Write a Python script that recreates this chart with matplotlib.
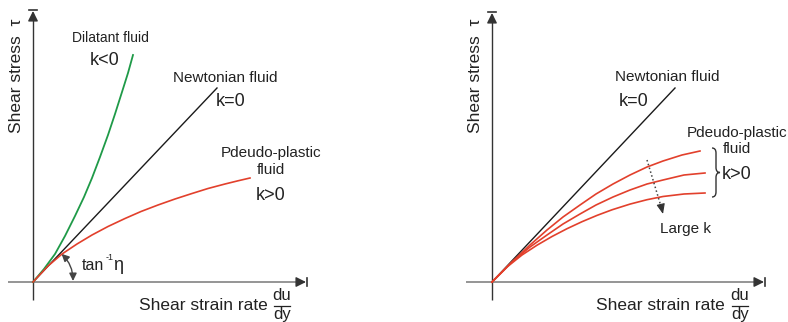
import matplotlib
matplotlib.use("Agg")
import matplotlib.pyplot as plt
from matplotlib.patches import FancyArrowPatch, ArrowStyle, PathPatch
from matplotlib.path import Path

plt.rcParams['font.family'] = ['Liberation Sans', 'DejaVu Sans']

# ---------------- data (arbitrary units: shear strain rate vs shear stress) ----------------
# Left panel
newton_left_x = [0, 184]
newton_left_y = [0, 194]
dilatant_x = [0, 11, 22, 32, 42, 51, 59, 67, 75, 82, 89, 95, 100]
dilatant_y = [0, 13, 28, 46, 66, 85, 104, 125, 147, 168, 190, 209, 227]
pseudo_left_x = [0, 15, 29, 44, 59, 75, 92, 108, 125, 142, 159, 175, 192, 205, 217]
pseudo_left_y = [0, 16, 28, 38, 47, 55.5, 63.5, 70.5, 77, 83, 88.5, 93.5, 98, 101.2, 104]

# Right panel
newton_right_x = [0, 183]
newton_right_y = [0, 194]
pseudo_top_x = [0, 20, 38, 55, 71, 88, 104, 121, 138, 155, 171, 190, 208]
pseudo_top_y = [0, 20, 37, 52, 65, 77, 88, 98, 107, 115, 121, 127, 131]
pseudo_mid_x = [0, 20, 38, 55, 71, 88, 104, 121, 138, 155, 171, 192, 213]
pseudo_mid_y = [0, 20, 35, 47, 58, 68, 77, 85, 92, 98, 102, 107, 109]
pseudo_bot_x = [0, 15, 30, 45, 60, 75, 90, 105, 120, 138, 155, 171, 192, 213]
pseudo_bot_y = [0, 15, 27, 36.8, 45.5, 53.3, 60.3, 66.6, 72.2, 77.9, 82.3, 85.5, 88, 89]

GREEN = '#1f9a48'
RED = '#e2402c'
BLACK = '#1a1a1a'
AXGRAY = '#8c8c8c'
AXDARK = '#333333'
TXT = '#222222'

fig = plt.figure(figsize=(7.88, 3.22), dpi=100)
axL = fig.add_axes([0, 0, 0.5, 1])
axR = fig.add_axes([0.5, 0, 0.5, 1])
axL.set_xlim(-33, 361)
axR.set_xlim(-98, 296)
for ax in (axL, axR):
    ax.set_ylim(-40, 282)
    ax.axis('off')


def draw_axes(ax, x0, x1, y0, y1):
    ax.plot([x0, x1 - 3], [0, 0], color=AXGRAY, lw=1.3, solid_capstyle='butt')
    ax.annotate('', xy=(x1 - 1, 0), xytext=(x1 - 9, 0),
                arrowprops=dict(arrowstyle=ArrowStyle('-|>', head_length=0.6, head_width=0.3),
                                color=AXDARK, lw=1, shrinkA=0, shrinkB=0, mutation_scale=10))
    ax.plot([x1, x1], [-4, 4], color=AXDARK, lw=1.2)
    ax.plot([0, 0], [y0, y1 - 3], color=AXDARK, lw=1.0, solid_capstyle='butt')
    ax.annotate('', xy=(0, y1 - 1), xytext=(0, y1 - 9),
                arrowprops=dict(arrowstyle=ArrowStyle('-|>', head_length=0.6, head_width=0.3),
                                color=AXDARK, lw=1, shrinkA=0, shrinkB=0, mutation_scale=10))
    ax.plot([-4, 4], [y1, y1], color=AXDARK, lw=1.2)


def draw_labels(ax, ylab_x, xlab_right, frac_x):
    ax.text(ylab_x, 206, 'Shear stress  τ', rotation=90, fontsize=12.5,
            ha='center', va='center', color=TXT)
    ax.text(xlab_right, -23, 'Shear strain rate', fontsize=12.5, ha='right',
            va='center', color=TXT)
    ax.text(frac_x, -14, 'du', fontsize=12, ha='center', va='center', color=TXT)
    ax.text(frac_x, -32, 'dy', fontsize=12, ha='center', va='center', color=TXT)
    ax.plot([frac_x - 8, frac_x + 8], [-23.5, -23.5], color=TXT, lw=0.9)


# ---------------- left panel ----------------
draw_axes(axL, -25, 274, -18, 272)
axL.plot(newton_left_x, newton_left_y, color=BLACK, lw=1.0)
axL.plot(dilatant_x, dilatant_y, color=GREEN, lw=1.3)
axL.plot(pseudo_left_x, pseudo_left_y, color=RED, lw=1.2)

arc = FancyArrowPatch(posA=(40, 1), posB=(28.5, 28.2),
                      connectionstyle='arc3,rad=0.21',
                      arrowstyle=ArrowStyle('<|-|>', head_length=0.45, head_width=0.22),
                      mutation_scale=10, color='#444444', lw=1.0, shrinkA=0, shrinkB=0)
axL.add_patch(arc)
axL.text(49, 17, 'tan', fontsize=11.5, ha='left', va='center', color=TXT)
axL.text(72.5, 25, '-1', fontsize=6.5, ha='left', va='center', color=TXT)
axL.text(80, 16, 'η', fontsize=13, ha='left', va='center', color=TXT)

axL.text(77, 244, 'Dilatant fluid', fontsize=10, ha='center', va='center', color=TXT)
axL.text(72, 222, 'k<0', fontsize=13, ha='center', va='center', color=TXT)
axL.text(192, 204, 'Newtonian fluid', fontsize=11, ha='center', va='center', color=TXT)
axL.text(198, 181, 'k=0', fontsize=13, ha='center', va='center', color=TXT)
axL.text(188, 129, 'Pdeudo-plastic', fontsize=11, ha='left', va='center', color=TXT)
axL.text(238, 112, 'fluid', fontsize=11, ha='center', va='center', color=TXT)
axL.text(238, 87, 'k>0', fontsize=13, ha='center', va='center', color=TXT)

draw_labels(axL, -16, 235, 249)

# ---------------- right panel ----------------
draw_axes(axR, -26, 273, -18, 270)
axR.plot(newton_right_x, newton_right_y, color=BLACK, lw=1.0)
for xs, ys in ((pseudo_top_x, pseudo_top_y), (pseudo_mid_x, pseudo_mid_y), (pseudo_bot_x, pseudo_bot_y)):
    axR.plot(xs, ys, color=RED, lw=1.2)

axR.plot([155, 169.8], [122, 73], color='#444444', lw=1.1, ls=(0, (1, 1.6)))
axR.annotate('', xy=(171, 68), xytext=(169.6, 74),
             arrowprops=dict(arrowstyle=ArrowStyle('-|>', head_length=0.6, head_width=0.25),
                             color='#333333', lw=0.8, shrinkA=0, shrinkB=0, mutation_scale=10))
axR.text(193, 53, 'Large k', fontsize=11, ha='center', va='center', color=TXT)

axR.text(175, 205, 'Newtonian fluid', fontsize=11, ha='center', va='center', color=TXT)
axR.text(142, 181, 'k=0', fontsize=13, ha='center', va='center', color=TXT)
axR.text(245, 149, 'Pdeudo-plastic', fontsize=11, ha='center', va='center', color=TXT)
axR.text(245, 133, 'fluid', fontsize=11, ha='center', va='center', color=TXT)
axR.text(245, 108, 'k>0', fontsize=13, ha='center', va='center', color=TXT)

# curly brace
bx, btop, bbot, bmid = 224, 134, 85, 109.5
verts = [(bx - 4, btop), (bx, btop), (bx, btop - 5),
         (bx, bmid + 5),
         (bx, bmid), (bx + 4, bmid),
         (bx, bmid), (bx, bmid - 5),
         (bx, bbot + 5),
         (bx, bbot), (bx - 4, bbot)]
codes = [Path.MOVETO, Path.CURVE3, Path.CURVE3, Path.LINETO,
         Path.CURVE3, Path.CURVE3, Path.CURVE3, Path.CURVE3,
         Path.LINETO, Path.CURVE3, Path.CURVE3]
axR.add_patch(PathPatch(Path(verts, codes), fill=False, edgecolor='#333333', lw=1.0))

draw_labels(axR, -17, 233, 248)

fig.savefig('out.png', dpi=100)
